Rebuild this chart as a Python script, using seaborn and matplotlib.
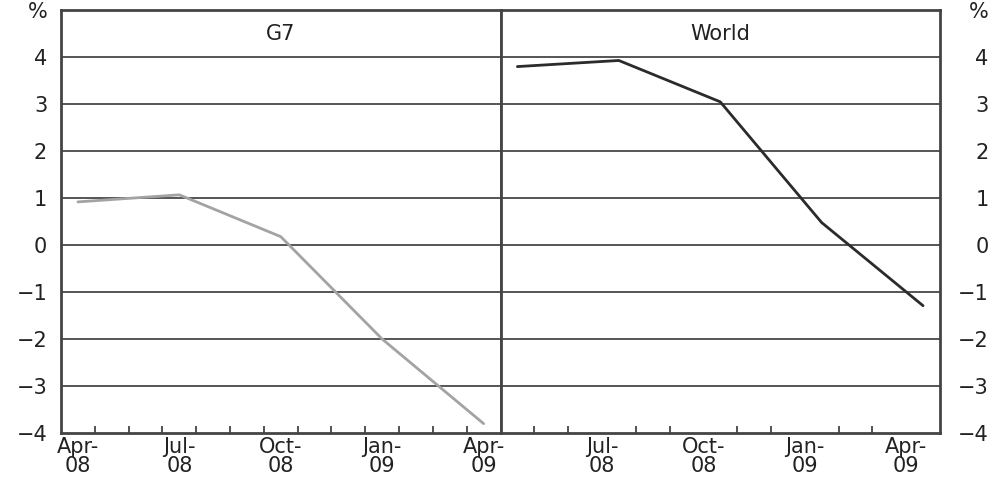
import matplotlib
matplotlib.use("Agg")
import matplotlib.pyplot as plt
import seaborn as sns
import pandas as pd

# quarterly points, months from Apr-08
months = [0, 3, 6, 9, 12]
quarter_labels = ["Apr-\n08", "Jul-\n08", "Oct-\n08", "Jan-\n09", "Apr-\n09"]
g7 = [0.92, 1.07, 0.18, -2.0, -3.8]
world = [3.80, 3.93, 3.05, 0.48, -1.29]

sns.set_style("white")
plt.rcParams["font.family"] = ["DejaVu Sans"]

fig, axes = plt.subplots(1, 2, figsize=(9.91, 4.86), dpi=100, sharey=True)
fig.subplots_adjust(left=0.0616, right=0.9485, top=0.979, bottom=0.109, wspace=0)

panels = [("G7", g7, "#a3a3a3"), ("World", world, "#2b2b2b")]
yticks = [-4, -3, -2, -1, 0, 1, 2, 3, 4, 5]
ylabels = ["\u22124", "\u22123", "\u22122", "\u22121", "0", "1", "2", "3", "4", "%"]
fs = 15

for i, (ax, (name, vals, col)) in enumerate(zip(axes, panels)):
    df = pd.DataFrame({"month": months, "value": vals})
    sns.lineplot(data=df, x="month", y="value", ax=ax, color=col, linewidth=2)
    ax.set_xlim(-0.5, 12.5)
    ax.set_ylim(-4, 5)
    for v in range(-3, 5):
        ax.axhline(v, color="#555555", linewidth=1.4, zorder=0)
    if i == 0:
        ax.set_xticks(months)
        ax.set_xticklabels(quarter_labels, fontsize=fs, linespacing=0.95, color="#222222")
    else:
        # the shared Apr-09/Apr-08 boundary label is drawn only once
        ax.set_xticks([m - 0.5 for m in months[1:]])
        ax.set_xticklabels(quarter_labels[1:], fontsize=fs, linespacing=0.95, color="#222222")
    ax.set_xticks([m + 0.5 for m in range(12)], minor=True)
    ax.tick_params(axis="x", which="major", length=0, pad=3)
    ax.tick_params(axis="x", which="minor", bottom=True, direction="in",
                   length=5, width=1.3, color="#444444")
    ax.set_xlabel("")
    ax.set_ylabel("")
    for s in ax.spines.values():
        s.set_color("#444444")
        s.set_linewidth(2)
    ax.text(6, 4.5, name, ha="center", va="center", fontsize=15, color="#222222")

axes[0].set_yticks(yticks)
axes[0].set_yticklabels(ylabels)
axes[0].tick_params(axis="y", length=0, pad=10, labelleft=True, labelsize=fs, labelcolor="#222222")
axes[1].tick_params(axis="y", length=0, labelleft=False, labelright=True,
                    labelsize=fs, labelcolor="#222222", pad=35)
for t in axes[1].get_yticklabels():
    t.set_horizontalalignment("right")

fig.savefig("out.png", dpi=100)
